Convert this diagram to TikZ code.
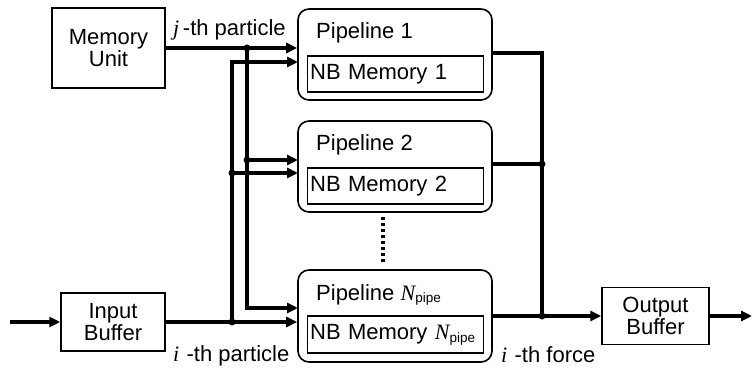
\documentclass[tikz,border=0pt]{standalone}
\usepackage{fontspec}
\setmainfont{Liberation Sans}
\newfontfamily\tms{Liberation Serif}
\usetikzlibrary{arrows.meta}
\newcommand{\vi}[1]{{\tms\itshape #1}}
\newcommand{\Np}{{\tms\itshape N}\raisebox{-0.25ex}{\fontsize{13.5}{13.5}\selectfont pipe}}
\begin{document}
\begin{tikzpicture}[x=1pt,y=-1pt,
  every node/.style={font=\fontsize{22}{25}\selectfont},
  box/.style={draw,line width=1.5pt,minimum width=#1,inner sep=0pt,align=center},
  pipe/.style={draw,line width=1.6pt,rounded corners=11pt,minimum width=194pt,minimum height=91pt,inner sep=0pt},
  nb/.style={draw,line width=1.3pt,text width=171pt,inner xsep=2.5pt,inner ysep=0pt,minimum height=36pt,align=left,anchor=west},
  wire/.style={line width=3.3pt},
  arr/.style={wire,-{Triangle[length=11pt,width=10pt]}},
  jdot/.style={circle,fill,inner sep=0pt,minimum size=7pt},
  lbl/.style={inner sep=0pt,anchor=base west}]
\useasboundingbox (0,0) rectangle (752,371);
% boxes
\node[box=113pt,minimum height=80pt] (mem) at (108.5,48) {Memory\\[-3pt]Unit};
\node[box=104pt,minimum height=58pt] (inbuf) at (113,322) {Input\\[-3pt]Buffer};
\node[box=107pt,minimum height=57pt] (outbuf) at (655.5,316) {Output\\[-3pt]Buffer};
\node[pipe] (p1) at (395,54.5) {};
\node[pipe] (p2) at (395,166.5) {};
\node[pipe,minimum height=92pt] (pN) at (395,316) {};
\node[nb] (nb1) at (307,74) {NB Memory 1};
\node[nb] (nb2) at (307,186) {NB Memory 2};
\node[nb,minimum height=37pt] (nbN) at (307,334.5) {NB Memory \Np};
\node[lbl] (t1) at (316,39) {Pipeline 1};
\node[lbl] (t2) at (316,151) {Pipeline 2};
\node[lbl] (tN) at (316,300) {Pipeline \Np};
% labels
\node[lbl] (lj) at (173,36) {\vi{j}\,-th particle};
\node[lbl] (li) at (173,361) {\vi{i}\,\,-th particle};
\node[lbl] (lf) at (501,362) {\vi{i}\,\,-th force};
% coordinates
\coordinate (jj) at (247,48);
\coordinate (ij) at (232,322);
\coordinate (i1) at (232,62);
\coordinate (p1i) at (298,62);
\coordinate (p2j) at (298,160);
\coordinate (p2i) at (298,173);
\coordinate (j2) at (247,160);
\coordinate (i2) at (232,173);
\coordinate (pNj) at (298,308);
\coordinate (o1) at (492,53);
\coordinate (o2) at (492,164);
\coordinate (c1) at (542,53);
\coordinate (c2) at (542,164);
\coordinate (cN) at (542,316);
\coordinate (inS) at (10,322);
\coordinate (outE) at (752,316);
\coordinate (d1) at (383,217);
\coordinate (d2) at (383,263);
% inputs
\draw[arr] (inS) -- (inbuf.west);
\draw[arr] (mem.east) -- (p1.west |- mem.east);
\draw[arr] (inbuf.east) -- (pN.west |- inbuf.east);
\draw[arr] (jj) |- (pNj);
\draw[arr] (ij) -- (i1) -- (p1i);
\draw[arr] (j2) -- (p2j);
\draw[arr] (i2) -- (p2i);
% outputs
\draw[wire] (o1) -- (c1) -- (cN);
\draw[wire] (o2) -- (c2);
\draw[arr] (pN.east) -- (outbuf.west);
\draw[arr] (outbuf.east) -- (outE);
% dots
\draw[line width=4pt,dash pattern=on 3.5pt off 2.5pt] (d1) -- (d2);
\node[jdot] at (jj) {};
\node[jdot] at (j2) {};
\node[jdot] at (i2) {};
\node[jdot] at (ij) {};
\node[jdot] at (c2) {};
\node[jdot] at (cN) {};
\end{tikzpicture}
\end{document}
